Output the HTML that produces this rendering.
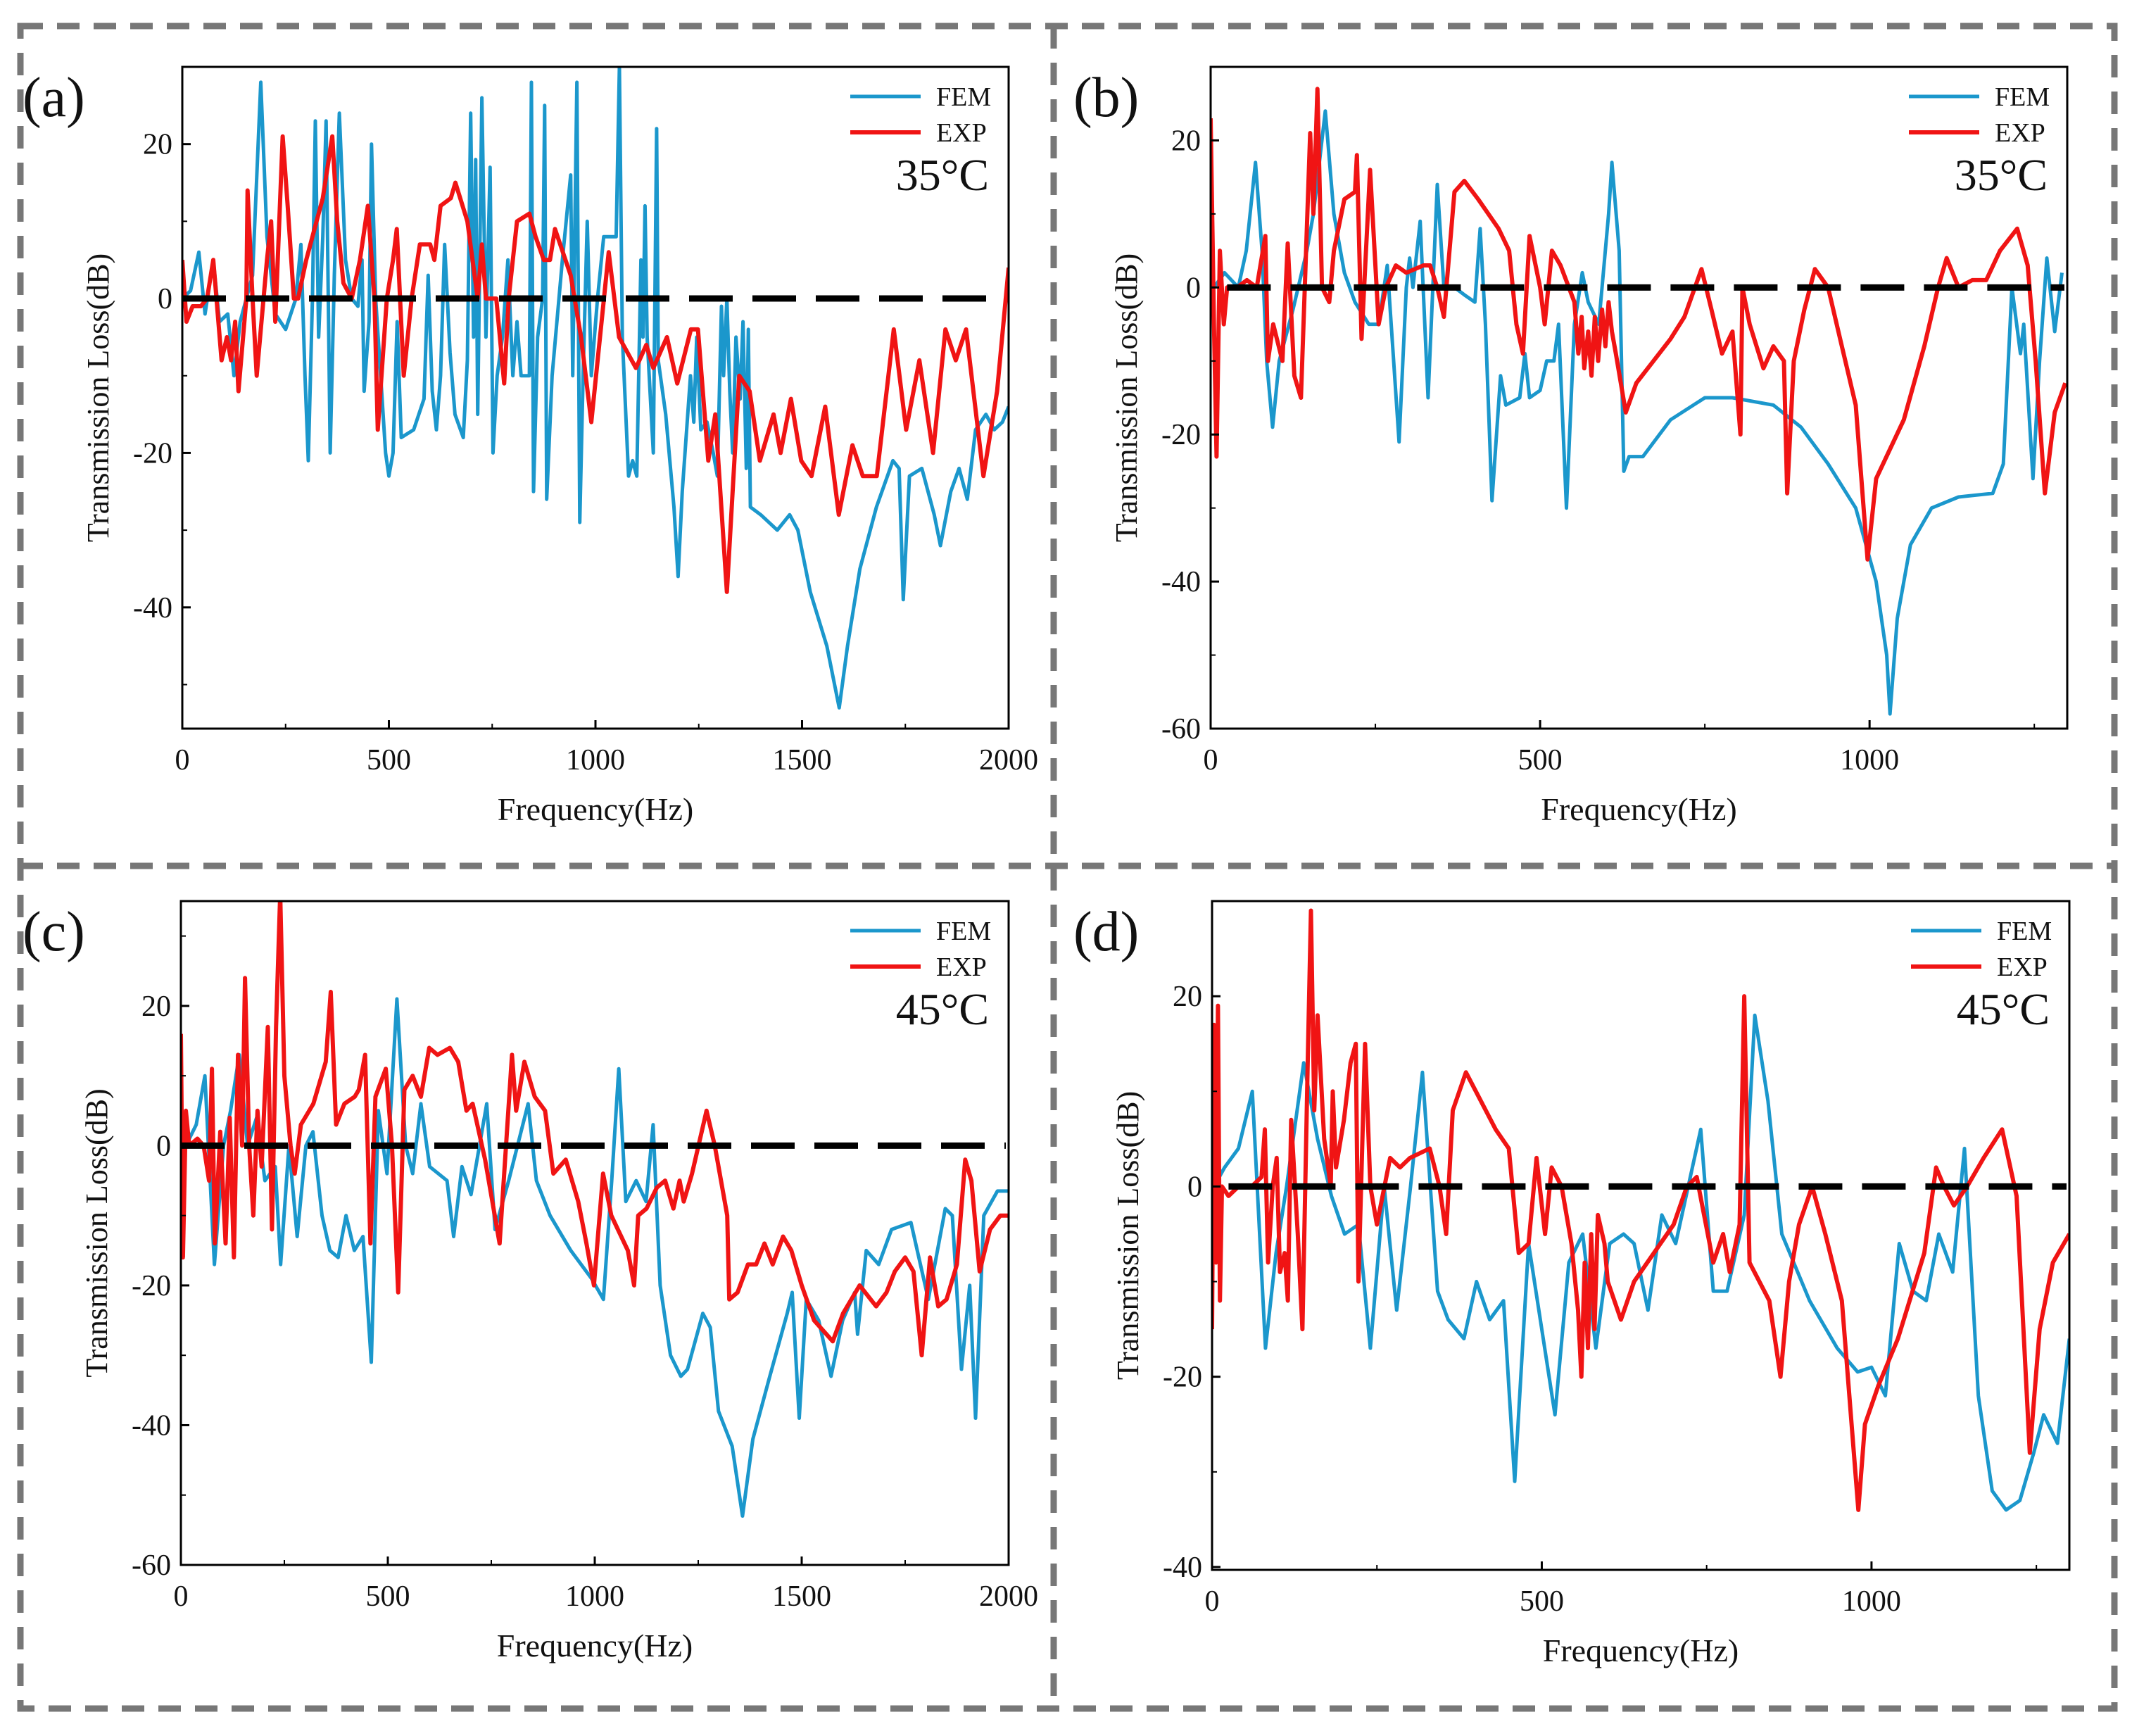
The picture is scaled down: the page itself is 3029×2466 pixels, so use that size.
<!DOCTYPE html>
<html><head><meta charset="utf-8"><style>
html,body{margin:0;padding:0;background:#fff}
svg{display:block}
text{font-family:"Liberation Serif",serif;fill:#111}
</style></head><body>
<svg id="fig" width="3029" height="2466" viewBox="0 0 3029 2466" xmlns="http://www.w3.org/2000/svg">
<g fill="none" stroke="#777" stroke-width="9" stroke-dasharray="32 20">
<rect x="29" y="37" width="2975" height="2390"/>
<line x1="29" y1="1230" x2="3004" y2="1230"/>
<line x1="1497" y1="37" x2="1497" y2="2427"/>
</g>
</svg>
<script>
// ---- Panel (a) 35°C, 0-2000 Hz
const femA_f=[0,20,40,55,75,90,110,125,140,170,190,205,225,250,275,287,297,305,315,322,330,340,348,358,368,380,395,410,425,435,440,452,458,468,480,492,500,510,520,530,560,585,595,605,615,625,635,648,660,680,690,698,705,710,715,725,735,745,752,762,775,788,800,810,820,840,845,850,860,872,877,882,895,920,940,945,955,962,970,980,990,1005,1020,1050,1058,1065,1080,1090,1100,1110,1115,1120,1125,1140,1148,1152,1170,1190,1200,1210,1230,1238,1245,1255,1270,1285,1295,1305,1310,1318,1325,1332,1340,1350,1357,1365,1370,1375,1400,1440,1470,1490,1520,1560,1590,1610,1640,1680,1720,1735,1745,1760,1790,1820,1835,1860,1880,1900,1920,1945,1965,1985,2000];
const femA_v=[0,1,6,-2,5,-3,-2,-10,-3,3,28,8,-2,-4,0,7,-10,-21,0,23,-5,8,23,-20,3,24,5,0,-1,5,-12,-3,20,0,-10,-20,-23,-20,-3,-18,-17,-13,3,-12,-17,-10,7,-7,-15,-18,-8,24,-5,18,-15,26,-5,17,-20,-10,-5,5,-10,-3,-10,-10,28,-25,-5,0,25,-26,-10,5,16,-10,28,-29,-10,10,-10,0,8,8,30,-5,-23,-21,-23,5,-5,12,-5,-20,22,-8,-15,-27,-36,-25,-10,-16,-5,-17,-16,-20,-23,-1,-10,0,-12,-20,-5,-13,-3,-22,-4,-27,-28,-30,-28,-30,-38,-45,-53,-45,-35,-27,-21,-22,-39,-23,-22,-28,-32,-25,-22,-26,-17,-15,-17,-16,-14];
const expA_f=[0,10,25,45,60,75,95,108,118,128,136,155,158,170,180,205,215,225,243,255,270,280,300,320,340,363,375,390,410,430,449,465,473,495,510,519,536,555,575,600,610,625,650,661,690,715,725,735,760,779,790,810,840,855,875,890,902,940,965,990,1032,1057,1098,1123,1140,1173,1198,1231,1248,1273,1290,1318,1348,1373,1398,1431,1448,1473,1498,1523,1556,1589,1622,1647,1681,1722,1752,1784,1817,1847,1872,1897,1939,1972,2000];
const expA_v=[5,-3,-1,-1,0,5,-8,-5,-8,-3,-12,0,14,0,-10,5,10,-3,21,12,0,0,5,9,13,21,10,2,0,5,12,0,-17,0,5,9,-10,0,7,7,5,12,13,15,10,0,7,0,0,-11,0,10,11,8,5,5,9,3,-5,-16,6,-5,-9,-6,-9,-5,-11,-4,-4,-21,-15,-38,-10,-12,-21,-15,-20,-13,-21,-23,-14,-28,-19,-23,-23,-4,-17,-8,-20,-4,-8,-4,-23,-12,4];
// ---- Panel (b) 35°C, 0-1300 Hz
const femB_f=[5,21,42,54,68,78,85,94,104,125,146,156,174,187,203,219,240,255,268,274,286,297,302,307,318,330,344,354,370,385,401,409,417,427,440,448,469,477,484,500,510,521,528,540,552,564,573,589,604,609,620,627,635,656,698,750,792,854,896,937,979,1010,1026,1031,1042,1062,1094,1135,1187,1203,1216,1229,1234,1248,1258,1269,1281,1292];
const femB_v=[0,2,0,5,17,5,-10,-19,-10,-3,5,10,24,10,2,-2,-5,-5,3,-5,-21,0,4,0,9,-15,14,0,0,-1,-2,8,-5,-29,-12,-16,-15,-9,-15,-14,-10,-10,-5,-30,-5,2,-2,-5,10,17,5,-25,-23,-23,-18,-15,-15,-16,-19,-24,-30,-40,-50,-58,-45,-35,-30,-28.5,-28,-24,0,-9,-5,-26,-10,4,-6,2];
const expB_f=[0,5,9,14,20,25,40,55,70,83,87,95,109,117,127,137,151,156,162,169,180,187,203,219,222,229,242,255,266,281,297,323,333,344,354,370,385,406,437,453,464,474,484,500,507,518,531,552,558,563,567,573,578,583,588,594,599,604,609,615,630,646,672,698,719,745,760,776,792,804,807,818,839,854,870,875,885,901,917,937,958,979,997,1010,1052,1083,1104,1117,1135,1156,1177,1198,1224,1240,1252,1266,1281,1297];
const expB_v=[23,-5,-23,5,-5,0,0,1,0,7,-10,-5,-10,6,-12,-15,21,10,27,0,-2,5,12,13,18,-7,16,-5,0,3,2,3,3,0,-4,13,14.5,12,8,5,-5,-9,7,0,-5,5,3,-2,-9,-4,-11,-6,-12,-4,-10,-3,-8,-2,-6,-9,-17,-13,-10,-7,-4,2.5,-3,-9,-6,-20,0,-5,-11,-8,-10,-28,-10,-3,2.5,0,-8,-16,-37,-26,-18,-8,0,4,0,1,1,5,8,3,-10,-28,-17,-13];
// ---- Panel (c) 45°C, 0-2000 Hz
const femC_f=[12,37,58,81,103,120,141,161,183,203,228,241,261,281,302,319,341,360,380,399,419,440,460,477,498,522,543,560,580,601,643,659,679,701,739,759,792,839,859,892,942,992,1021,1041,1058,1075,1100,1124,1141,1158,1183,1208,1224,1261,1279,1299,1332,1357,1382,1423,1465,1477,1494,1511,1541,1571,1599,1628,1635,1656,1686,1717,1764,1806,1847,1864,1886,1906,1920,1940,1973,2000];
const femC_v=[0,3,10,-17,0,5,13,0,4,-5,-3,-17,0,-13,0,2,-10,-15,-16,-10,-15,-13,-31,5,-4,21,0,-4,6,-3,-5,-13,-3,-7,6,-12,-5,6,-5,-10,-15,-19,-22,-5,11,-8,-5,-8,3,-20,-30,-33,-32,-24,-26,-38,-43,-53,-42,-33,-24,-21,-39,-22,-25,-33,-25,-21,-27,-15,-17,-12,-11,-22,-9,-10,-32,-20,-39,-10,-6.5,-6.5];
const expC_f=[0,5,12,20,40,55,68,75,82,95,108,118,128,138,148,155,165,175,185,195,210,220,230,240,250,265,275,290,320,350,362,375,395,420,430,445,458,470,495,510,525,540,560,580,600,620,650,670,690,705,735,770,800,810,830,855,880,900,930,960,980,998,1020,1040,1080,1095,1105,1125,1150,1170,1190,1205,1215,1235,1270,1290,1320,1325,1345,1370,1390,1410,1430,1455,1475,1500,1530,1575,1600,1640,1680,1705,1725,1750,1770,1790,1810,1830,1850,1875,1895,1910,1930,1955,1980,2000];
const expC_v=[16,-16,5,0,1,0,-5,11,-14,2,-14,4,-16,13,0,24,0,-10,5,-3,17,-12,17,36,10,0,-4,3,6,12,22,3,6,7,8,13,-14,7,11,0,-21,8,10,7,14,13,14,12,5,6,-2,-14,13,5,12,7,5,-4,-2,-8,-14,-20,-4,-10,-15,-20,-10,-9,-6,-5,-9,-5,-8,-4,5,0,-10,-22,-21,-17,-17,-14,-17,-13,-15,-20,-25,-28,-24,-20,-23,-21,-18,-16,-18,-30,-16,-23,-22,-17,-2,-5,-18,-12,-10,-10];
// ---- Panel (d) 45°C, 0-1300 Hz
const femD_f=[3,19,40,61,81,97,113,139,160,181,201,222,240,261,280,301,319,342,358,382,401,421,442,459,480,520,541,562,582,603,624,640,661,682,703,741,760,781,807,823,843,864,906,948,979,1000,1021,1042,1063,1083,1102,1123,1141,1162,1183,1204,1225,1246,1261,1282,1300];
const femD_v=[0,2,4,10,-17,-7,0,13,5,-1,-5,-4,-17,0,-13,0,12,-11,-14,-16,-10,-14,-12,-31,-6,-24,-8,-5,-17,-6,-5,-6,-13,-3,-6,6,-11,-11,-3,18,9,-5,-12,-17,-19.5,-19,-22,-6,-11,-12,-5,-9,4,-22,-32,-34,-33,-28,-24,-27,-16];
const expD_f=[0,3,6,9,12,15,25,40,60,75,80,85,92,98,103,110,115,120,130,137,145,150,155,160,170,180,183,188,200,210,218,222,232,240,250,270,285,300,330,345,355,365,385,400,430,450,465,480,492,505,515,530,545,555,560,565,570,575,580,585,595,600,620,640,670,700,720,735,760,775,785,800,807,815,830,845,862,875,890,910,930,955,980,990,1010,1040,1080,1098,1110,1125,1145,1170,1198,1220,1240,1255,1275,1300];
const expD_v=[-15,17,-8,19,-12,0,-1,0,0,1,6,-8,0,3,-9,-7,-12,7,-5,-15,13,29,8,18,5,0,10,2,7,13,15,-10,15,0,-4,3,2,3,4,0,-5,8,12,10,6,4,-7,-6,3,-5,2,0,-6,-13,-20,-8,-17,-5,-15,-3,-6,-10,-14,-10,-7,-4,0,1,-8,-5,-9,-4,20,-8,-10,-12,-20,-10,-4,0,-5,-12,-34,-25,-21,-16,-7,2,0,-2,0,3,6,-1,-28,-15,-8,-5];

const yTicksA=[20,0,-20,-40], yTicksB=[20,0,-20,-40,-60], yTicksC=[20,0,-20,-40,-60], yTicksD=[20,0,-20,-40];
const xTicks2000=[0,500,1000,1500,2000], xTicks1300=[0,500,1000];

const NS="http://www.w3.org/2000/svg";
const svg=document.getElementById('fig');
function mk(tag,attrs,parent){const e=document.createElementNS(NS,tag);for(const k in attrs)e.setAttribute(k,attrs[k]);(parent||svg).appendChild(e);return e;}

function panel(p){
  const g=mk('g',{});
  
  
  const sx=f=>p.L+(f-p.x0)/(p.x1-p.x0)*(p.R-p.L);
  const sy=v=>p.T+(p.y1-v)/(p.y1-p.y0)*(p.B-p.T);
  const cp=mk('clipPath',{id:'clip'+p.id},g);
  mk('rect',{x:p.L,y:p.T,width:p.R-p.L,height:p.B-p.T},cp);
  const sg=mk('g',{'clip-path':'url(#clip'+p.id+')'},g);
  
  
  function s2(fs,vs,color,w,name){
    const pts=fs.map((f,i)=>sx(f).toFixed(1)+','+sy(vs[i]).toFixed(1)).join(' ');
    const pl=mk('polyline',{points:pts,fill:'none',stroke:color,'stroke-width':w,'stroke-linejoin':'round'},sg);
    
    
  }
  s2(p.fem[0],p.fem[1],'#1b97cc',5,'fem-line');
  s2(p.exp[0],p.exp[1],'#f01414',6,'exp-line');
  const z=mk('line',{x1:sx(p.zs),y1:sy(0),x2:p.R-4,y2:sy(0),stroke:'#000','stroke-width':9,'stroke-dasharray':'62 28'},g);
  
  
  const fr=mk('rect',{x:p.L,y:p.T,width:p.R-p.L,height:p.B-p.T,fill:'none',stroke:'#000','stroke-width':3},g);
  
  
  p.yt.forEach(v=>{
    mk('line',{x1:p.L,y1:sy(v),x2:p.L+12,y2:sy(v),stroke:'#000','stroke-width':3},g);
    const t=mk('text',{x:p.L-14,y:sy(v)+14,'text-anchor':'end','font-size':42},g);
    t.textContent=v;
    
    
  });
  for(let v=p.yt[0]+10;v>p.y0;v-=20){ if(v<p.y1) mk('line',{x1:p.L,y1:sy(v),x2:p.L+7,y2:sy(v),stroke:'#000','stroke-width':2},g);}
  p.xt.forEach(f=>{
    mk('line',{x1:sx(f),y1:p.B,x2:sx(f),y2:p.B-12,stroke:'#000','stroke-width':3},g);
    const t=mk('text',{x:sx(f),y:p.B+58,'text-anchor':'middle','font-size':42},g);
    t.textContent=f;
    
    
    if(f+250<p.x1) mk('line',{x1:sx(f+250),y1:p.B,x2:sx(f+250),y2:p.B-7,stroke:'#000','stroke-width':2},g);
  });
  const xt=mk('text',{x:(p.L+p.R)/2,y:p.B+130,'text-anchor':'middle','font-size':46},g);
  xt.textContent='Frequency(Hz)';
  
  
  const cy=(p.T+p.B)/2;
  const yt=mk('text',{x:p.L-105,y:cy,'text-anchor':'middle','font-size':44,transform:'rotate(-90 '+(p.L-105)+' '+cy+')'},g);
  yt.textContent='Transmission Loss(dB)';
  
  
  const lb=mk('text',{x:p.lx,y:p.T+70,'font-size':80},g);
  lb.textContent='('+p.id+')';
  
  
  const lg=mk('g',{},g);
  
  
  const lx=p.R-225;
  mk('line',{x1:lx,y1:p.T+42,x2:lx+100,y2:p.T+42,stroke:'#1b97cc','stroke-width':5},lg);
  mk('line',{x1:lx,y1:p.T+93,x2:lx+100,y2:p.T+93,stroke:'#f01414','stroke-width':6},lg);
  const t1=mk('text',{x:lx+122,y:p.T+55,'font-size':38},lg); t1.textContent='FEM';
  
  
  const t2=mk('text',{x:lx+122,y:p.T+106,'font-size':38},lg); t2.textContent='EXP';
  
  
  const tc=mk('text',{x:p.R-28,y:p.T+175,'text-anchor':'end','font-size':64},g);
  tc.textContent=p.temp;
  
  
}
panel({id:'a',L:259,R:1433,T:95,B:1035,x0:0,x1:2000,y0:-55.7,y1:30,yt:yTicksA,xt:xTicks2000,fem:[femA_f,femA_v],exp:[expA_f,expA_v],zs:0,lx:32,temp:'35°C'});
panel({id:'b',L:1720,R:2937,T:95,B:1035,x0:0,x1:1300,y0:-60,y1:30,yt:yTicksB,xt:xTicks1300,fem:[femB_f,femB_v],exp:[expB_f,expB_v],zs:25,lx:1525,temp:'35°C'});
panel({id:'c',L:257,R:1433,T:1280,B:2223,x0:0,x1:2000,y0:-60,y1:35,yt:yTicksC,xt:xTicks2000,fem:[femC_f,femC_v],exp:[expC_f,expC_v],zs:0,lx:32,temp:'45°C'});
panel({id:'d',L:1722,R:2940,T:1280,B:2230,x0:0,x1:1300,y0:-40.3,y1:30,yt:yTicksD,xt:xTicks1300,fem:[femD_f,femD_v],exp:[expD_f,expD_v],zs:25,lx:1525,temp:'45°C'});
</script>
</body></html>
